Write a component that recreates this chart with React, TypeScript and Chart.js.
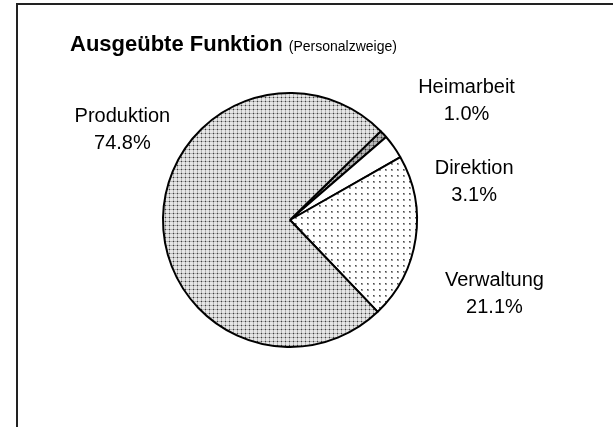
import React, { useEffect, useRef } from "react";
import { Chart, registerables } from "chart.js";

Chart.register(...registerables);

// ---- data ----
const categories = ["Heimarbeit", "Direktion", "Verwaltung", "Produktion"];
const shares = [1.0, 3.1, 21.1, 74.8];
const titleMain = "Ausgeübte Funktion";
const titleSub = "(Personalzweige)";

// ---- styles ----
const START_ANGLE = 45.6; // degrees clockwise from 12 o'clock
// label anchor relative to pie centre, in units of the outer radius
const labelAnchors: Record<string, [number, number]> = {
  Heimarbeit: [1.39, -0.94],
  Direktion: [1.45, -0.3],
  Verwaltung: [1.61, 0.58],
  Produktion: [-1.32, -0.71],
};

function tile(size: number, draw: (c: CanvasRenderingContext2D) => void) {
  const cv = document.createElement("canvas");
  cv.width = size;
  cv.height = size;
  const c = cv.getContext("2d")!;
  draw(c);
  return cv;
}

function px(c: CanvasRenderingContext2D, x: number, y: number, col: string, w = 1, h = 1) {
  c.fillStyle = col;
  c.fillRect(x, y, w, h);
}

function makeFills(ctx: CanvasRenderingContext2D) {
  const prod = tile(4, (c) => {
    px(c, 0, 0, "#e6e6e6", 4, 4);
    px(c, 1, 0, "#b4b4b4", 1, 4);
    px(c, 0, 1, "#b4b4b4", 4, 1);
    px(c, 1, 1, "#3c3c3c");
  });
  const heim = tile(4, (c) => {
    px(c, 0, 0, "#b8b8b8", 4, 4);
    px(c, 1, 0, "#808080", 1, 4);
    px(c, 0, 1, "#808080", 4, 1);
    px(c, 1, 1, "#333333");
  });
  const verw = tile(6, (c) => {
    px(c, 0, 0, "#ffffff", 6, 6);
    px(c, 1, 1, "#9a9a9a", 2, 2);
    px(c, 1, 1, "#4a4a4a");
  });
  return [
    ctx.createPattern(heim, "repeat")!,
    "#ffffff",
    ctx.createPattern(verw, "repeat")!,
    ctx.createPattern(prod, "repeat")!,
  ];
}

const framePlugin = {
  id: "frame",
  beforeDraw(chart: any) {
    const c = chart.ctx as CanvasRenderingContext2D;
    c.save();
    c.fillStyle = "#ffffff";
    c.fillRect(0, 0, chart.width, chart.height);
    c.strokeStyle = "#222222";
    c.lineWidth = 2;
    c.beginPath();
    c.moveTo(17, chart.height + 5);
    c.lineTo(17, 4);
    c.lineTo(chart.width + 5, 4);
    c.stroke();
    c.restore();
  },
};

const textPlugin = {
  id: "texts",
  afterDraw(chart: any) {
    const c = chart.ctx as CanvasRenderingContext2D;
    c.save();
    // title
    c.fillStyle = "#000000";
    c.textBaseline = "alphabetic";
    c.textAlign = "left";
    c.font = "bold 22px 'Liberation Sans', Arial, sans-serif";
    const x0 = 70;
    const yb = 51;
    c.fillText(titleMain, x0, yb);
    const w = c.measureText(titleMain + " ").width;
    c.font = "14px 'Liberation Sans', Arial, sans-serif";
    c.fillText(titleSub, x0 + w, yb);

    // slice labels
    const meta = chart.getDatasetMeta(0);
    const arc0 = meta.data[0];
    const cx = arc0.x;
    const cy = arc0.y;
    const r = arc0.outerRadius;
    c.font = "20px 'Liberation Sans', Arial, sans-serif";
    c.textAlign = "center";
    c.textBaseline = "middle";
    categories.forEach((name, i) => {
      const a = labelAnchors[name];
      const lx = cx + a[0] * r;
      const ly = cy + a[1] * r;
      c.fillText(name, lx, ly - 13.5);
      c.fillText(shares[i].toFixed(1) + "%", lx, ly + 13.5);
    });
    c.restore();
  },
};

export default function App() {
  const ref = useRef<HTMLCanvasElement>(null);
  useEffect(() => {
    const canvas = ref.current!;
    const ctx = canvas.getContext("2d")!;
    const chart = new Chart(ctx, {
      type: "pie",
      data: {
        labels: categories,
        datasets: [
          {
            data: shares,
            backgroundColor: makeFills(ctx) as any,
            borderColor: "#000000",
            borderWidth: 2,
            hoverOffset: 0,
          },
        ],
      },
      options: {
        responsive: false,
        animation: false,
        rotation: START_ANGLE,
        layout: { padding: { left: 162, right: 195, top: 92, bottom: 79 } },
        plugins: {
          legend: { display: false },
          tooltip: { enabled: false },
          title: { display: false },
        },
      },
      plugins: [framePlugin, textPlugin],
    });
    return () => chart.destroy();
  }, []);
  return (
    <div style={{ position: "absolute", left: 0, top: 0, width: 613, height: 427 }}>
      <canvas ref={ref} width={613} height={427} style={{ display: "block" }} />
    </div>
  );
}
